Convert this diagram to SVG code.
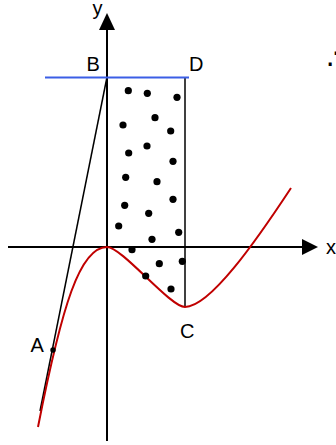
<svg xmlns="http://www.w3.org/2000/svg" width="336" height="445" viewBox="0 0 336 445">
<style>
.lbl{font-family:"Liberation Sans",Arial,sans-serif;font-size:20px;fill:#000}
.ax{stroke:#000;stroke-width:2;fill:none}
.thin{stroke:#000;stroke-width:1.5;fill:none}
.dot{fill:#000}
</style>
<rect width="336" height="445" fill="#fff"/>
<g id="axes">
<line class="ax" x1="107" y1="441" x2="107" y2="28"/>
<polygon points="107,13 99,30 115,30" fill="#000"/>
<line class="ax" x1="8" y1="247" x2="304" y2="247"/>
<polygon points="318,247 302,239 302,255" fill="#000"/>
<text class="lbl" x="92.5" y="15">y</text>
<text class="lbl" x="326" y="254">x</text>
</g>
<g id="connectors">
<line class="thin" x1="185" y1="77" x2="185" y2="307"/>
<line class="thin" x1="107" y1="77" x2="40" y2="411"/>
<line x1="45" y1="77.5" x2="189" y2="77.5" stroke="#3b5ee6" stroke-width="2"/>
<path d="M38,427 C62,305 80,247 107,247 C122,247 170,307 185,307 C210,307 256,241.2 291,188" fill="none" stroke="#c00000" stroke-width="2"/>
</g>
<g id="dots">
<circle class="dot" cx="128.3" cy="90.7" r="3.6"/>
<circle class="dot" cx="147.3" cy="93.3" r="3.6"/>
<circle class="dot" cx="177" cy="97.3" r="3.6"/>
<circle class="dot" cx="155" cy="117.7" r="3.6"/>
<circle class="dot" cx="123" cy="125" r="3.6"/>
<circle class="dot" cx="170.7" cy="131" r="3.6"/>
<circle class="dot" cx="147" cy="146" r="3.6"/>
<circle class="dot" cx="128.7" cy="153" r="3.6"/>
<circle class="dot" cx="173" cy="161.3" r="3.6"/>
<circle class="dot" cx="125.7" cy="177.3" r="3.6"/>
<circle class="dot" cx="157" cy="181.7" r="3.6"/>
<circle class="dot" cx="173" cy="199.3" r="3.6"/>
<circle class="dot" cx="124.7" cy="205.3" r="3.6"/>
<circle class="dot" cx="148.7" cy="213.3" r="3.6"/>
<circle class="dot" cx="118.7" cy="226" r="3.6"/>
<circle class="dot" cx="178.7" cy="232.3" r="3.6"/>
<circle class="dot" cx="152" cy="239.3" r="3.6"/>
<circle class="dot" cx="132" cy="249.7" r="3.6"/>
<circle class="dot" cx="182.3" cy="261.3" r="3.6"/>
<circle class="dot" cx="159.3" cy="263.7" r="3.6"/>
<circle class="dot" cx="145.7" cy="276" r="3.6"/>
<circle class="dot" cx="171" cy="289" r="3.6"/>
</g>
<g id="A"><circle class="dot" cx="53" cy="350" r="2.7"/><text class="lbl" x="30.5" y="351.5">A</text></g>
<g id="B"><text class="lbl" x="86.5" y="70.7">B</text></g>
<g id="C"><text class="lbl" x="180" y="337.5">C</text></g>
<g id="D"><text class="lbl" x="189" y="70.7">D</text></g>
<text x="326.8" y="69" font-family="DejaVu Sans,sans-serif" font-size="29">∴</text>
</svg>
